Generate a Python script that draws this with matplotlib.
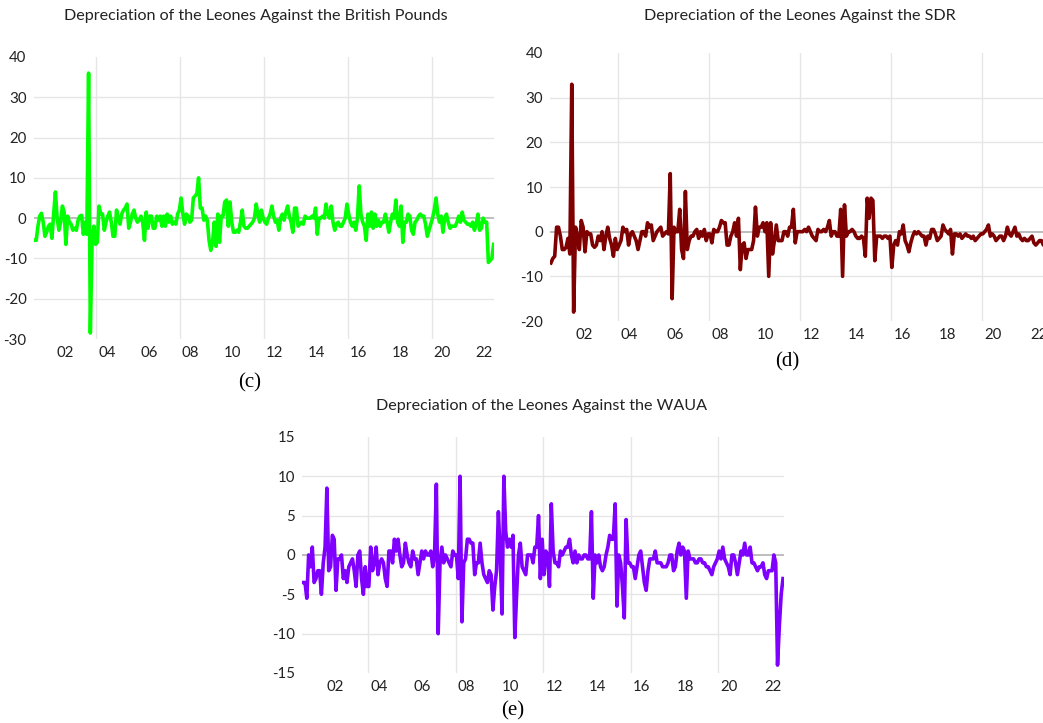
import numpy as np
import matplotlib
matplotlib.use('Agg')
import matplotlib.pyplot as plt

plt.rcParams['font.family'] = ['Lato', 'DejaVu Sans']

# 月度数据 2001M01 - 2022M12
start_year = 2001

gbp_dep = [
    -5.5, -5.5, -2, 0.5, 1.2, -1, -4.5, -3.5, -2, -1.5, -5, 1,
    6.5, 0, -3, -1, 3, 1.5, -6.5, 0.5, -1, -1.5, -3, -2.5,
    -3, -0.5, 0.5, 0.7, -4, -1, -4, 36, -28.5, -6, -2, -6.5,
    -6, 3, 1, 1, -3, -1, 0.5, 1.5, -1, -4.5, -4.5, 2,
    0, -1.5, 1, 2, 2.5, 3.5, -2.5, -1, 1, 2, 0, -1,
    -0.5, 0.5, -1, -5.5, 1.5, -2.5, 0.5, 0.5, -2.5, -2.5, 0.5, -0.5,
    0.5, -2, 0.5, -2, 1, -1, 0.5, -1.5, -1, -1.5, 1, 2,
    5, 1, -1.5, 1, 0.5, -1, -0.5, 5, 5.5, 6, 10, 2.5,
    2.5, -0.5, 0.5, -0.5, -5.5, -8, -6, -1, -7, 1, -6, 0.5,
    0.5, 4, 4.5, -2, 4, -1, -3.5, -3.5, -3, -3.5, -1, 2,
    -2, -2.5, -2.5, -2, -1.5, -1, 0, 3.5, 1, -1, 2, 0,
    -1, -1.5, 0, 1, 3, 0.5, -1, -0.5, -3, 0, 1, -0.5,
    1.5, 3, 0.5, -1, -3.5, 2.5, 2.5, -2, -1.5, -1, -1.5, 0.5,
    0, 0, 0, 0.5, 0, 2.5, -4, 0, 0, 0.5, 0, 3.5,
    1, 0, 3, -1, -3, -1.5, -1, -2, -2, -1, 0, 3.5,
    1, -1, -2, -1, -3, 0, 8, 1, -1, -2, -5.5, 1,
    -2, 1.5, -2.5, 1, -2, -0.5, -2, -1, -1, 1, -1, -3.5,
    -1, 1, 0, 4.5, -1, -2, 3, -6, -1, -1, 1, 0.5,
    -3, -4, -1, -0.5, 0.5, 1, 0.5, 0.5, -1.5, -4.5, -3, -1.5,
    0, 2, 5, 1, -1, 0.5, -3.5, 0, 1, -1, -2.5, -2,
    -2, -2, -1, 0.5, -1, 1.5, -0.5, -1, -1.5, -1.5, -2, -1,
    -3, -1.5, 1, -3, -2.5, 0, -1, -1, -11, -10.5, -10, -6.5,
]

sdr_dep = [
    -7, -6, -5.5, 1, 1, -1, -4, -4, -3.5, -1.5, -5, 33,
    -18, 1, -1, -4, 2.5, 1, -4.5, 0, -0.5, -0.5, -3, -3.5,
    -3, -1, -2, 0, -4, -1, 1, -1.5, -3, -5.5, -1.5, -4,
    -3, -2, 1, 0, 0.5, -3, -0.5, 0, -1, -2, -4, -2,
    0, 0, -1, 2, 1, 1.5, -2, -1, 0, 0.5, 1, -1,
    -0.5, 0, -0.5, 13, -15, 1, 0, 0, 5, -4, -6, 9,
    -4, -2, -1, -1, 0, 0.5, -1.5, 0, -1, 0.5, -2, -0.5,
    -0.5, -2.5, 0.5, 0, 0, 1, 2.5, 2, 2, -3, -3, -1,
    0, 2, -1, 3, -8.5, -3, -2.5, -6, -4, -4, -4, -2,
    5.5, -1, 1, 1, 2, 0, 2, -10, 2, -5, -2, 1.5,
    -2, -2, -2, 0, 0, -1, 1, 1, 5, -2.5, 0, 0,
    0, 0, 0.5, 0, 1, 0, -1, -1.5, -2, 0.5, 0, 0,
    0.5, 0, 1, 2.5, -1, 0, 0, -1, -1, 5, -10, 6,
    -1, 0, 0, 0.5, 0, -1, -1.5, -1.5, -1, -1.5, -5.5, 7.5,
    3, 7.5, 7, -6.5, -1, -1, -1, -1.5, -1, -1, -1.5, -1,
    -8, -3, -2, -3, 0, -0.5, 1.5, -2, -3, -4.5, -2.5, -1,
    0, -0.5, 0, -0.5, -1, -1, -3, -1, -1.5, 0.5, 0.5, -0.5,
    -2, -1.5, -1, 1.5, 0.5, 0, -0.5, 0.5, -5, -0.5, -0.5, -1,
    -0.5, -1.5, -1, -0.5, -1, -1, -1.5, -1, -2, -1.5, -1, -0.5,
    -0.5, 0, 0.5, 1.5, -1, -0.5, -1, -2, -1.5, -1, -1, -2,
    -1, 1, -0.5, -1, 0, 1, -1, -0.5, -1.5, -2, -1.5, -2,
    -2, -1.5, -1, -2.5, -3, -2.5, -2, -2, -3, -2.5, -4, -5,
]

waua_dep = [
    -3.5, -3.5, -5.5, 0, -1.5, 1, -3.5, -3, -2, -2, -5, -1,
    1, 8.5, -2, -1.5, 2.5, 2, -4.5, -0.5, -0.5, 0, -3, -2,
    -3.5, -1.5, -1, -0.5, -2, -4, 0, 0.5, -3, -5, -1.5, -4,
    -4, 1, -2, -1, 1, -2.5, -1, -0.5, -1, -3, -4, 0.5,
    0.5, -1, 2, 0.5, 2, 0, -1.5, -1, 1.5, 0, -1, -1.5,
    0.5, -0.5, -0.5, -2.5, -1, 0.5, -0.5, 0.5, 0, 0, 0.5, -1.5,
    0, 9, -10, -1, 1, -1, 0, -0.5, -1, -1.5, 0.5, 0,
    0, -3, 10, -8.5, -1, -0.5, 2, 2, 1.5, 1.5, -2.5, -1,
    -1, 1.5, -1, -2.5, -3, -3.5, -2, -2.5, -7, -4, -2, 5.5,
    0, -7.5, 10, 3, 1, 2, 1, 2.5, -10.5, -5, 0, 1.5,
    -1.5, -2, -2.5, 0, 0, 0, -1, 1, 1, 5, -3, 2,
    -2.5, 0.5, 0, -4, 6.5, 0.5, -1, -1, -1.5, 0.5, 0, 0.5,
    1, 1, 2, 0, -1, 0.5, -1, 0, -0.5, -0.5, 0, 0,
    -0.5, -0.5, 5.5, -5.5, 0, -1, 0, -1.5, -2, -1.5, 0, 1,
    2.5, 2, 2, 6.5, -6.5, 0, -1, -4, -8, 4.5, -1, -1,
    -1.5, -1.5, -3, -1.5, 0, 0.5, -1.5, -3.5, -4.5, -2, -0.5, -0.5,
    -0.5, 0.5, -1, -1, -1, -1.5, -1.5, -1.5, -1, 0, 0, -2,
    -1.5, 0.5, 1.5, 0, 1, 0.5, -5.5, 0.5, -0.5, -0.5, -0.5, -1,
    -1, -0.5, -0.5, -1, -1, -1.5, -1.5, -2, -2.5, -1.5, -1, -0.5,
    0.5, -0.5, 1, -0.5, -1, -1.5, -2.5, 0, 0, -1, -2.5, -1,
    0.5, 0, 1.5, 0, 0, 1, -1, -1, -1.5, -2, -1.5, -1.5,
    -1, -2.5, -3, -2, -2, -2, 0, -1, -14, -9, -5, -3,
]

panels = [
    # 数据, 颜色, 标题, 标签, 坐标轴位置, y范围, y刻度, 标题位置, 标签位置
    (gbp_dep, '#00FF00', 'Depreciation of the Leones Against the British Pounds', '(c)',
     [0.0322, 0.5311, 0.4419, 0.3901], (-30, 40), [-30, -20, -10, 0, 10, 20, 30, 40],
     (256, 16), (250, 383)),
    (sdr_dep, '#7F0000', 'Depreciation of the Leones Against the SDR', '(d)',
     [0.5273, 0.5560, 0.4794, 0.3707], (-20, 40), [-20, -10, 0, 10, 20, 30, 40],
     (800, 16), (787, 362)),
    (waua_dep, '#7F00FF', 'Depreciation of the Leones Against the WAUA', '(e)',
     [0.2898, 0.0692, 0.4618, 0.3264], (-15, 15), [-15, -10, -5, 0, 5, 10, 15],
     (541, 406), (513, 711)),
]

W, H = 1043, 723
fig = plt.figure(figsize=(W / 100, H / 100), dpi=100)

for data, color, title, tag, rect, ylim, yticks, tpos, lpos in panels:
    ax = fig.add_axes(rect)
    x = start_year + (np.arange(len(data)) + 0.5) / 12
    ax.set_xlim(2001, 2023)
    ax.set_ylim(*ylim)

    # 网格线
    for g in [2004, 2008, 2012, 2016, 2020]:
        ax.axvline(g, color='#e6e6e6', lw=1.0, zorder=0)
    for v in yticks[1:-1]:
        if v == 0:
            ax.axhline(v, color='#b8b8b8', lw=1.3, zorder=1)
        else:
            ax.axhline(v, color='#e6e6e6', lw=1.0, zorder=0)

    ax.plot(x, data, color=color, lw=2.6, zorder=3)

    ax.set_yticks(yticks)
    ax.set_yticklabels([str(v) for v in yticks], fontsize=10.8, color='#222222')
    ax.set_xticks([2002.5 + 2 * k for k in range(11)])
    ax.set_xticklabels(['%02d' % (2 + 2 * k) for k in range(11)], fontsize=10.8, color='#222222')
    ax.tick_params(length=0, pad=5)
    for s in ax.spines.values():
        s.set_visible(False)

    fig.text(tpos[0] / W, 1 - tpos[1] / H, title, ha='center', va='center',
             fontsize=11.6, color='#222222')
    fig.text(lpos[0] / W, 1 - lpos[1] / H, tag, ha='center', va='center',
             fontsize=15, family='Liberation Serif', color='black')

fig.savefig('out.png', dpi=100)
